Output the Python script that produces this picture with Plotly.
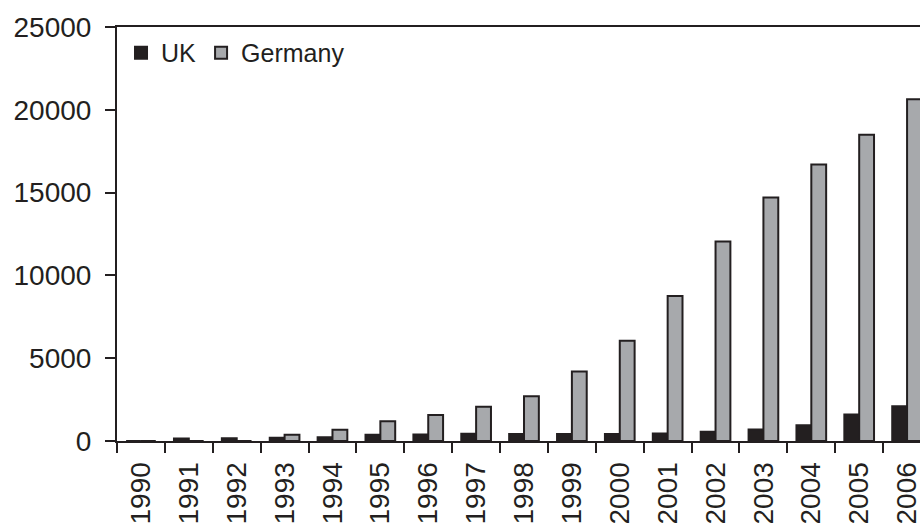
import plotly.graph_objects as go

# Installed wind capacity by year (MW)
years = [str(y) for y in range(1990, 2007)]
uk_mw = [0, 150, 170, 200, 230, 380, 400, 440, 420, 430, 430, 450,
         560, 700, 950, 1600, 2100]
germany_mw = [0, 0, 0, 380, 680, 1190, 1570, 2070, 2700, 4200, 6050,
              8750, 12050, 14700, 16700, 18500, 20640]

INK = "#231f20"
GREY = "#a7a9ac"
FONT = "Liberation Sans, Arial, sans-serif"

fig = go.Figure()
fig.add_trace(go.Bar(
    x=years, y=uk_mw, name="UK",
    marker=dict(color=INK, line=dict(color=INK, width=2)),
))
fig.add_trace(go.Bar(
    x=years, y=germany_mw, name="Germany",
    marker=dict(color=GREY, line=dict(color=INK, width=2)),
))

fig.update_layout(
    width=920, height=527,
    margin=dict(l=117, r=0, t=27, b=86),
    paper_bgcolor="white", plot_bgcolor="white",
    font=dict(family=FONT, color=INK, size=28),
    barmode="group", bargap=0.38, bargroupgap=0,
    showlegend=True,
    legend=dict(
        orientation="h", x=0.005, y=0.993, xanchor="left", yanchor="top",
        font=dict(size=25, color=INK), bgcolor="rgba(0,0,0,0)",
        itemwidth=30, tracegroupgap=0, traceorder="normal",
    ),
    xaxis=dict(
        type="category", range=[-0.5, 16.27], automargin=False,
        showline=True, linecolor=INK, linewidth=2, mirror=True,
        ticks="outside", tickson="boundaries", ticklen=10, tickwidth=2,
        tickcolor=INK, tickangle=-90, tickfont=dict(size=28),
        showgrid=False, zeroline=False, ticklabelstandoff=8,
    ),
    yaxis=dict(
        range=[0, 25000], dtick=5000, tickformat="d", automargin=False,
        showline=True, linecolor=INK, linewidth=2,
        ticks="outside", ticklen=10, tickwidth=2, tickcolor=INK,
        tickfont=dict(size=28), showgrid=False, zeroline=False,
        ticklabelstandoff=8,
    ),
)

fig.write_html("out.html")
